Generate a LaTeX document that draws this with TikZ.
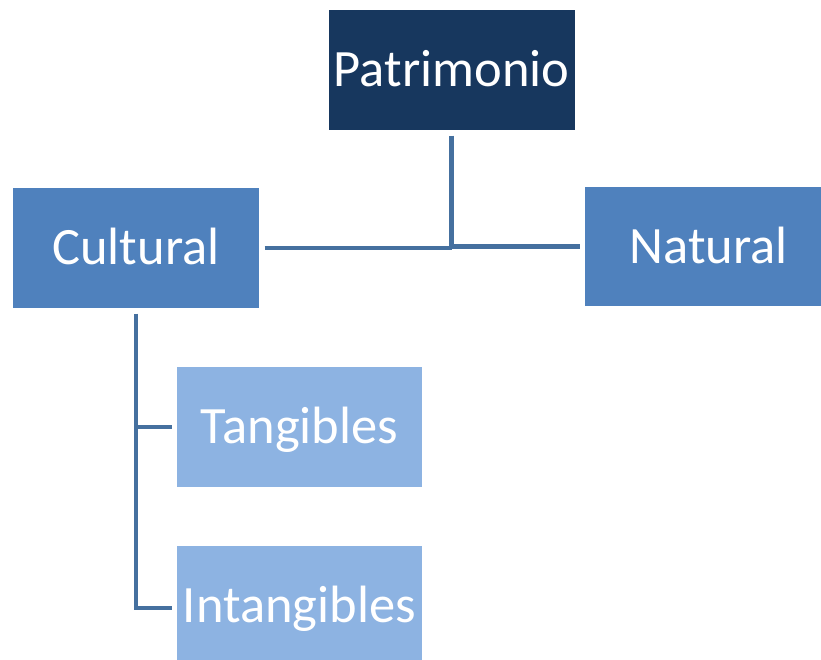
\documentclass[tikz,border=0pt]{standalone}
\usepackage{fontspec}
\setmainfont{Carlito}
\definecolor{navy}{HTML}{17375E}
\definecolor{midblue}{HTML}{4F81BD}
\definecolor{lightblue}{HTML}{8DB3E2}
\definecolor{linkblue}{HTML}{45709F}
\begin{document}
\begin{tikzpicture}[x=1pt,y=-1pt,
  box/.style={rectangle, minimum width=246pt, minimum height=120pt, inner sep=0pt,
    outer sep=5.5pt, text=white, font=\fontsize{52.5}{56}\selectfont,
    text height=33.8pt, text depth=0pt, align=center},
  link/.style={draw=linkblue, line width=4.5pt}]
\useasboundingbox (0,0) rectangle (821,659);
\clip (0,0) rectangle (821,659);
\node[box, fill=navy] (pat) at (451.5,70) {Patrimonio};
\node[box, fill=midblue] (cul) at (136,248) {Cultural};
\node[box, fill=midblue, minimum width=247pt, minimum height=119pt] (nat) at (708.5,246.5) {Natural};
\node[box, fill=lightblue, minimum width=245pt] (tan) at (299.5,427) {Tangibles};
\node[box, fill=lightblue, minimum width=245pt] (int) at (299.5,606) {Intangibles};
\draw[link] (pat.south) -- (pat.south |- cul.east);
\draw[link] (cul.east) -- (cul.east -| pat.south);
\draw[link] (pat.south |- nat.west) -- (nat.west);
\draw[link, line join=miter] (cul.south) -- ([yshift=-2pt]cul.south |- int.west) -- ([yshift=-2pt]int.west);
\draw[link] (cul.south |- tan.west) -- (tan.west);
\end{tikzpicture}
\end{document}
